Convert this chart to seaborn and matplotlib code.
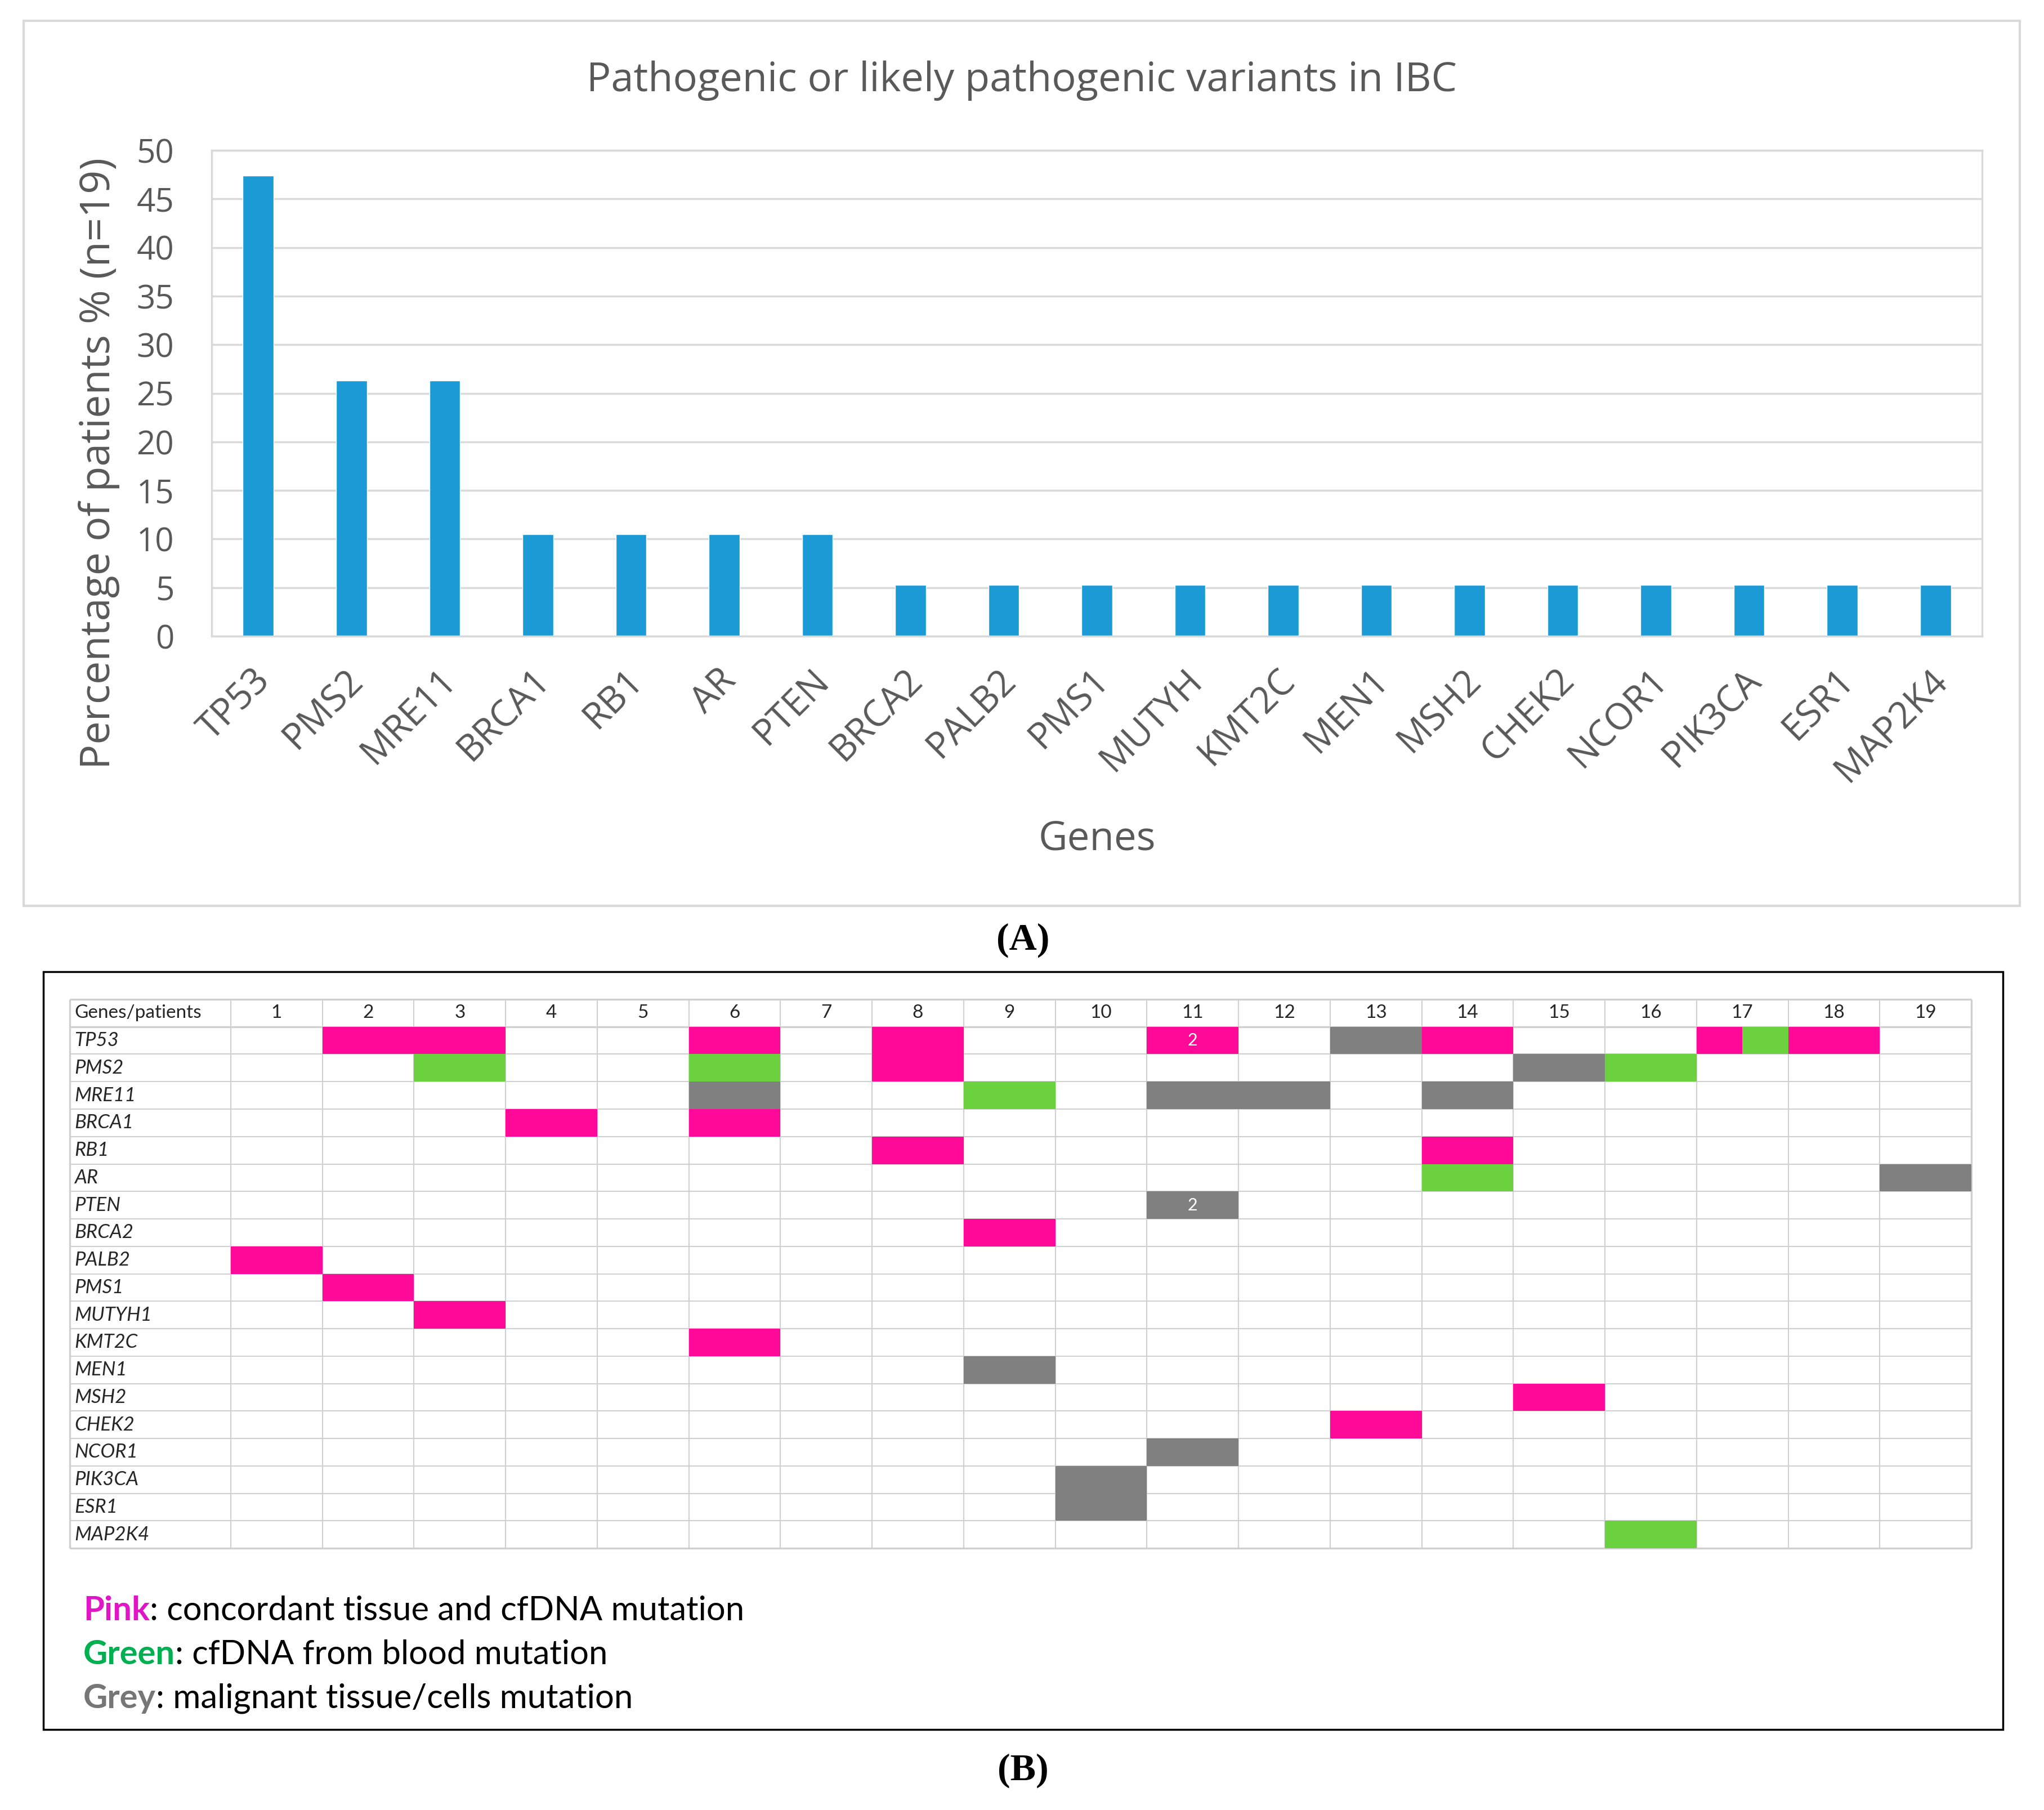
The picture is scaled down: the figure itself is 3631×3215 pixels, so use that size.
import numpy as np
import pandas as pd
import matplotlib
matplotlib.use("Agg")
import matplotlib.pyplot as plt
import seaborn as sns
from matplotlib.colors import ListedColormap
from matplotlib.patches import Rectangle
from matplotlib.transforms import ScaledTranslation

# ---------------- data ----------------
bar_genes = ["TP53", "PMS2", "MRE11", "BRCA1", "RB1", "AR", "PTEN", "BRCA2", "PALB2",
             "PMS1", "MUTYH", "KMT2C", "MEN1", "MSH2", "CHEK2", "NCOR1", "PIK3CA",
             "ESR1", "MAP2K4"]
bar_pct = [47.4, 26.3, 26.3, 10.5, 10.5, 10.5, 10.5, 5.3, 5.3,
           5.3, 5.3, 5.3, 5.3, 5.3, 5.3, 5.3, 5.3, 5.3, 5.3]
y_ticks = [0, 5, 10, 15, 20, 25, 30, 35, 40, 45, 50]

table_genes = ["TP53", "PMS2", "MRE11", "BRCA1", "RB1", "AR", "PTEN", "BRCA2", "PALB2",
               "PMS1", "MUTYH1", "KMT2C", "MEN1", "MSH2", "CHEK2", "NCOR1", "PIK3CA",
               "ESR1", "MAP2K4"]
patients = list(range(1, 20))

pink_cells = [("TP53", 2), ("TP53", 3), ("TP53", 6), ("TP53", 8), ("TP53", 11),
              ("TP53", 14), ("TP53", 18), ("PMS2", 8), ("BRCA1", 4), ("BRCA1", 6),
              ("RB1", 8), ("RB1", 14), ("BRCA2", 9), ("PALB2", 1), ("PMS1", 2),
              ("MUTYH1", 3), ("KMT2C", 6), ("MSH2", 15), ("CHEK2", 13)]
green_cells = [("PMS2", 3), ("PMS2", 6), ("PMS2", 16), ("MRE11", 9), ("AR", 14),
               ("MAP2K4", 16)]
grey_cells = [("TP53", 13), ("PMS2", 15), ("MRE11", 6), ("MRE11", 11), ("MRE11", 12),
              ("MRE11", 14), ("AR", 19), ("PTEN", 11), ("MEN1", 9), ("NCOR1", 11),
              ("PIK3CA", 10), ("ESR1", 10)]
split_pink_green_cells = [("TP53", 17)]
cell_counts = [("TP53", 11, "2"), ("PTEN", 11, "2")]

legend_keys = ["Pink", "Green", "Grey"]
legend_texts = [": concordant tissue and cfDNA mutation",
                ": cfDNA from blood mutation",
                ": malignant tissue/cells mutation"]

# ---------------- style ----------------
PINK, GREEN, GREY = "#FF0A98", "#6BD13F", "#808080"
KEY_COLORS = ["#E016C6", "#00B050", "#767676"]
BAR = "#1B9AD6"
TXT = "#595959"
GRID = "#D9D9D9"

sns.set_theme(style="white")
plt.rcParams["font.family"] = ["Open Sans", "DejaVu Sans"]

W, H = 3631, 3215
fig = plt.figure(figsize=(W / 100, H / 100), dpi=100)
fig.patch.set_facecolor("white")


def fx(x):
    return x / W


def fy(y):
    return 1 - y / H


def frame(x0, y0, x1, y1, color, lw):
    fig.add_artist(Rectangle((fx(x0), fy(y1)), fx(x1) - fx(x0), fy(y0) - fy(y1),
                             transform=fig.transFigure, fill=False, ec=color, lw=lw))


# ---------------- panel A ----------------
frame(42, 37, 3588, 1609, GRID, 3)

ax1 = fig.add_axes([fx(376), fy(1130), fx(3521) - fx(376), fy(267) - fy(1130)])
bar_df = pd.DataFrame({"gene": bar_genes, "pct": bar_pct})
sns.barplot(data=bar_df, x="gene", y="pct", color=BAR, saturation=1, width=0.33, ax=ax1)
ax1.set_ylim(0, 50)
ax1.set_yticks(y_ticks)
ax1.set_yticklabels([str(t) for t in y_ticks])
ax1.yaxis.grid(True, color=GRID, lw=2.5)
ax1.set_axisbelow(True)
for s in ax1.spines.values():
    s.set_visible(True)
    s.set_color(GRID)
    s.set_linewidth(2.5)
ax1.set_xlabel("")
ax1.set_ylabel("")
ax1.tick_params(axis="y", length=0, pad=48, labelsize=42, labelcolor=TXT)
ax1.tick_params(axis="x", length=0, pad=33, labelsize=47, labelcolor=TXT)
off = ScaledTranslation(-0.12, 0, fig.dpi_scale_trans)
for lab in ax1.get_xticklabels():
    lab.set_rotation(45)
    lab.set_ha("right")
    lab.set_va("top")
    lab.set_rotation_mode("anchor")
    lab.set_transform(lab.get_transform() + off)

fig.text(fx(1815), fy(162), "Pathogenic or likely pathogenic variants in IBC",
         ha="center", va="baseline", fontsize=52, color=TXT)
fig.text(fx(176), fy(823), "Percentage of patients % (n=19)", rotation=90,
         ha="center", va="center", fontsize=53, color=TXT)
fig.text(fx(1949), fy(1492), "Genes", ha="center", va="center", fontsize=51, color=TXT)
fig.text(fx(1817), fy(1670), "(A)", ha="center", va="center", fontsize=49,
         fontweight="bold", family=["Liberation Serif", "DejaVu Serif"], color="black")

# ---------------- panel B ----------------
frame(77, 1726, 3558, 3072, "black", 2.5)

n_g, n_p = len(table_genes), len(patients)
codes = np.zeros((n_g, 2 * n_p))
for code, cells in ((1, pink_cells), (2, green_cells), (3, grey_cells)):
    for g, p in cells:
        r = table_genes.index(g)
        codes[r, 2 * (p - 1):2 * p] = code
for g, p in split_pink_green_cells:
    r = table_genes.index(g)
    codes[r, 2 * (p - 1)] = 1
    codes[r, 2 * (p - 1) + 1] = 2
code_df = pd.DataFrame(codes, index=table_genes)

ax2 = fig.add_axes([fx(124), fy(2750), fx(3502) - fx(124), fy(1775) - fy(2750)])
sns.heatmap(code_df, mask=(code_df == 0), cmap=ListedColormap([PINK, GREEN, GREY]),
            vmin=0.5, vmax=3.5, cbar=False, xticklabels=False, yticklabels=False,
            linewidths=0, ax=ax2)
half_w = (3502 - 410) / (2 * n_p)
lbl_w = (410 - 124) / half_w
ax2.set_xlim(-lbl_w, 2 * n_p)
ax2.set_ylim(n_g, -1)
ax2.set_xticks([])
ax2.set_yticks([])
ax2.set_facecolor("white")

TGRID = "#D0D0D0"
for xv in [-lbl_w] + list(range(0, 2 * n_p + 1, 2)):
    outer = xv in (-lbl_w, 2 * n_p)
    ax2.plot([xv, xv], [-1, n_g], color=TGRID, lw=2.4 if outer else 1.5, zorder=0.5,
             clip_on=False, solid_capstyle="butt")
for yv in range(-1, n_g + 1):
    outer = yv in (-1, 0, n_g)
    ax2.plot([-lbl_w, 2 * n_p], [yv, yv], color=TGRID, lw=2.4 if outer else 1.5,
             zorder=0.5, clip_on=False, solid_capstyle="butt")

TFONT = ["Lato", "DejaVu Sans"]
TCOL = "#262626"
pad = 8 / half_w
ax2.text(-lbl_w + pad, -0.5, "Genes/patients", ha="left", va="center", fontsize=24,
         family=TFONT, color=TCOL)
for i, p in enumerate(patients):
    ax2.text(2 * i + 1, -0.5, str(p), ha="center", va="center", fontsize=24,
             family=TFONT, color=TCOL)
for r, g in enumerate(table_genes):
    ax2.text(-lbl_w + pad, r + 0.5, g, ha="left", va="center", fontsize=25,
             style="italic", family=TFONT, color=TCOL)
for g, p, t in cell_counts:
    ax2.text(2 * (p - 1) + 1, table_genes.index(g) + 0.5, t, ha="center", va="center",
             fontsize=22, family=TFONT, color="white", zorder=5)

baselines = [2878, 2956, 3034]
for key, txt, col, yb in zip(legend_keys, legend_texts, KEY_COLORS, baselines):
    t1 = fig.text(fx(148), fy(yb), key, ha="left", va="baseline", fontsize=43,
                  fontweight="bold", family=TFONT, color=col)
    fig.add_artist(plt.Annotation(txt, xy=(1, 0), xycoords=t1, ha="left", va="bottom",
                                  fontsize=43, family=TFONT, color="black"))

fig.text(fx(1817), fy(3145), "(B)", ha="center", va="center", fontsize=49,
         fontweight="bold", family=["Liberation Serif", "DejaVu Serif"], color="black")

fig.savefig("out.png", dpi=100, facecolor="white")
